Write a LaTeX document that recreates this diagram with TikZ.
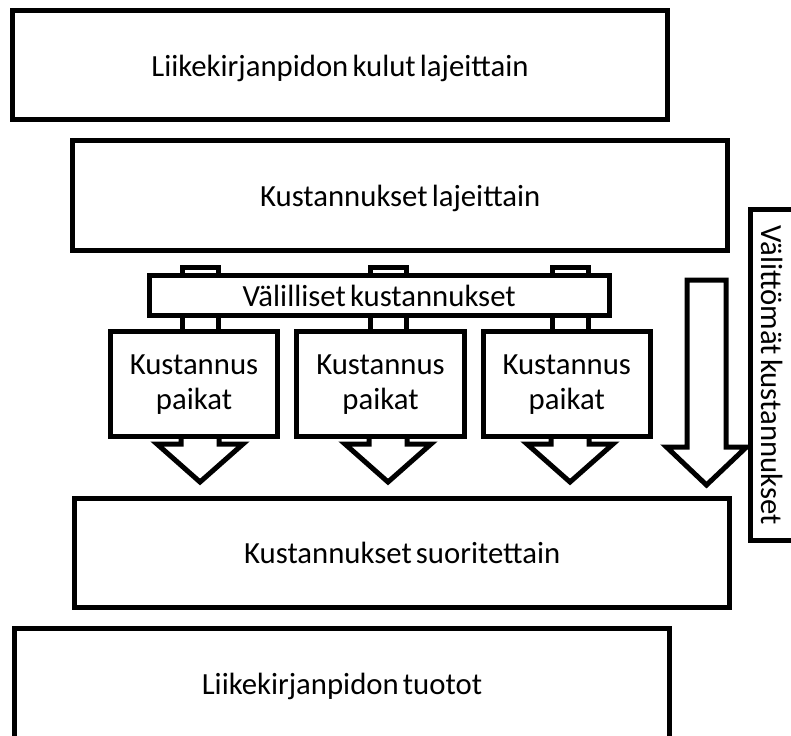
\documentclass[tikz,border=0pt]{standalone}
\usepackage{fontspec}
\setmainfont{Carlito}[WordSpace=0.6]

\tikzset{
  box/.style={draw,line width=0.1cm,fill=white,inner sep=0pt,align=center,
    text height=12.5pt,text depth=0pt,font=\fontsize{17.5}{20}\selectfont},
  twoline/.style={text height=29pt},
  blockarrow/.style={draw,line width=0.1cm,fill=white},
}

\begin{document}
\begin{tikzpicture}[x=0.02cm,y=-0.02cm]
\useasboundingbox (0,0) rectangle (791,735);
\clip (0,0) rectangle (791,735);
%
\draw[blockarrow] (182,267.5) rectangle (218,345);
\draw[blockarrow] (370,267.5) rectangle (406,345);
\draw[blockarrow] (552,267.5) rectangle (588,345);
%
\draw[blockarrow] (181,420)--(181,444)--(157,444)--(200,482)--(243,444)--(219,444)--(219,420)--cycle;
\draw[blockarrow] (369,420)--(369,444)--(345,444)--(388,482)--(431,444)--(407,444)--(407,420)--cycle;
\draw[blockarrow] (551,420)--(551,444)--(527,444)--(570,482)--(613,444)--(589,444)--(589,420)--cycle;
%
\draw[blockarrow] (687,280)--(726,280)--(726,447)--(746.5,447)--(706.5,485)--(666.5,447)--(687,447)--cycle;
%
\node[box,minimum width=13.12cm,minimum height=2.19cm] (kulut) at (340,65.25) {Liikekirjanpidon kulut lajeittain};
\node[box,minimum width=13.11cm,minimum height=2.21cm] (lajit) at (400.25,195.75) {Kustannukset lajeittain};
\node[box,minimum width=9.21cm,minimum height=0.79cm] (valill) at (379.25,295.25) {Välilliset kustannukset};
%
\node[box,twoline,minimum width=3.34cm,minimum height=2.11cm] (kp1) at (194,383.75) {Kustannus\\paikat};
\node[box,twoline,minimum width=3.36cm,minimum height=2.11cm] (kp2) at (380.5,383.75) {Kustannus\\paikat};
\node[box,twoline,minimum width=3.35cm,minimum height=2.11cm] (kp3) at (566.75,383.75) {Kustannus\\paikat};
%
\node[box,rotate=-90,minimum width=6.63cm,minimum height=0.88cm] (valitt) at (772.5,375.25) {Välittömät kustannukset};
%
\node[box,minimum width=13.11cm,minimum height=2.18cm] (suor) at (402.25,552.5) {Kustannukset suoritettain};
\node[box,minimum width=13.12cm,minimum height=2.24cm] (tuotot) at (342,684) {Liikekirjanpidon tuotot};
\end{tikzpicture}
\end{document}
